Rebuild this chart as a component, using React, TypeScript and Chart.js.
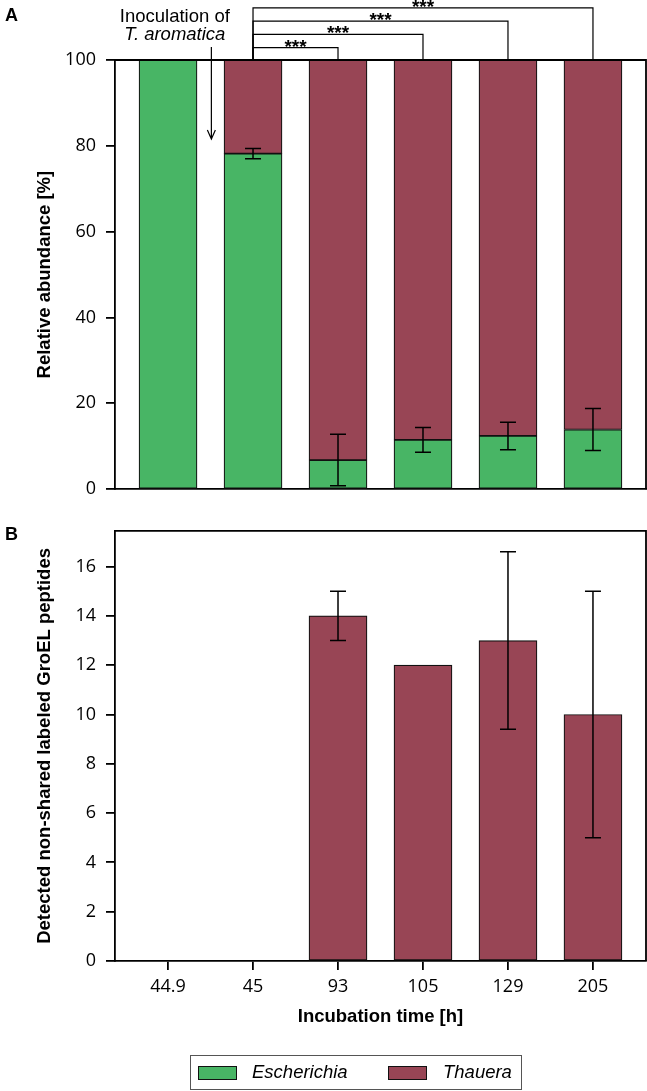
import { useEffect, useRef } from 'react'
import { Chart, registerables } from 'chart.js'

Chart.register(...registerables)

// incubation time points (h)
const timeLabels = ['44.9', '45', '93', '105', '129', '205']

// panel A: relative abundance [%]
const escherichiaAbundance = [100, 78.2, 6.8, 11.5, 12.4, 13.9]
const escherichiaAbundanceErr = [0, 1.2, 6, 2.9, 3.2, 4.9]
const thaueraAbundance = [0, 21.8, 93.2, 88.5, 87.6, 86.1]

// significance brackets (from time point index -> to index)
const significancePairs = [
  [1, 2],
  [1, 3],
  [1, 4],
  [1, 5],
]
const significanceLabels = ['***', '***', '***', '***']

// panel B: detected non-shared labeled GroEL peptides
const thaueraPeptides = [null, null, 14, 12, 13, 10]
const thaueraPeptidesErr = [0, 0, 1, 0, 3.6, 5]

const GREEN = '#48b565'
const RED = '#984555'
const EDGE = '#111'
const TICK_FONT = { family: 'Open Sans', size: 18 }
const TITLE_FONT = { family: 'Liberation Sans', size: 18.5, weight: 'bold' as const }

const frame = {
  id: 'frame',
  afterDraw(chart: any) {
    const { ctx, chartArea } = chart
    ctx.save()
    ctx.strokeStyle = '#000'
    ctx.lineWidth = 1.8
    ctx.beginPath()
    ctx.moveTo(chartArea.left, chartArea.top)
    ctx.lineTo(chartArea.right, chartArea.top)
    ctx.lineTo(chartArea.right, chartArea.bottom)
    ctx.stroke()
    ctx.restore()
  },
}

function errorBars(values: (number | null)[], errs: number[]) {
  return {
    id: 'errorBars',
    afterDatasetsDraw(chart: any) {
      const { ctx, scales } = chart
      ctx.save()
      ctx.strokeStyle = '#000'
      ctx.lineWidth = 1.5
      values.forEach((v, i) => {
        if (v == null || !errs[i]) return
        const x = scales.x.getPixelForValue(i)
        const y1 = scales.y.getPixelForValue(v + errs[i])
        const y2 = scales.y.getPixelForValue(v - errs[i])
        ctx.beginPath()
        ctx.moveTo(x, y1)
        ctx.lineTo(x, y2)
        ctx.moveTo(x - 8, y1)
        ctx.lineTo(x + 8, y1)
        ctx.moveTo(x - 8, y2)
        ctx.lineTo(x + 8, y2)
        ctx.stroke()
      })
      ctx.restore()
    },
  }
}

const annotations = {
  id: 'annotations',
  afterDraw(chart: any) {
    const { ctx, scales, chartArea } = chart
    ctx.save()
    ctx.strokeStyle = '#000'
    ctx.fillStyle = '#000'
    ctx.lineWidth = 1.2
    // significance brackets
    const top = scales.y.getPixelForValue(100)
    significancePairs.forEach(([a, b], k) => {
      const xa = scales.x.getPixelForValue(a)
      const xb = scales.x.getPixelForValue(b)
      const yl = chartArea.top - 12.3 - 13.3 * k
      ctx.beginPath()
      ctx.moveTo(xa, top)
      ctx.lineTo(xa, yl)
      ctx.lineTo(xb, yl)
      ctx.lineTo(xb, top)
      ctx.stroke()
      ctx.font = 'bold 19px "Liberation Sans"'
      ctx.textAlign = 'center'
      ctx.textBaseline = 'alphabetic'
      ctx.fillText(significanceLabels[k], (xa + xb) / 2, yl + 5)
    })
    // inoculation arrow
    const ax = scales.x.getPixelForValue(0.51)
    const y0 = chartArea.top - 13
    const y1 = scales.y.getPixelForValue(81.6)
    ctx.beginPath()
    ctx.moveTo(ax, y0)
    ctx.lineTo(ax, y1)
    ctx.moveTo(ax - 4, y1 - 9)
    ctx.lineTo(ax, y1)
    ctx.lineTo(ax + 4, y1 - 9)
    ctx.stroke()
    const tx = scales.x.getPixelForValue(0.08)
    ctx.textAlign = 'center'
    ctx.font = '18.5px "Liberation Sans"'
    ctx.fillText('Inoculation of', tx, 21.7)
    ctx.font = 'italic 18.5px "Liberation Sans"'
    ctx.fillText('T. aromatica', tx, 40)
    ctx.restore()
  },
}

const xRange = { min: -0.624, max: 5.624, offset: false }
const setTicks = (s: any) => {
  s.ticks = timeLabels.map((_, i) => ({ value: i }))
}

function AbundanceChart() {
  const ref = useRef<HTMLCanvasElement>(null)
  useEffect(() => {
    if (!ref.current) return
    const chart = new Chart(ref.current, {
      type: 'bar',
      data: {
        datasets: [
          {
            label: 'Escherichia',
            data: escherichiaAbundance.map((y, i) => ({ x: i, y })),
            backgroundColor: GREEN,
            borderColor: EDGE,
            borderWidth: 1.2,
            borderSkipped: false,
            barThickness: 58,
          },
          {
            label: 'Thauera',
            data: thaueraAbundance.map((y, i) => ({ x: i, y })),
            backgroundColor: RED,
            borderColor: EDGE,
            borderWidth: 1.2,
            borderSkipped: false,
            barThickness: 58,
          },
        ],
      },
      options: {
        animation: false,
        responsive: false,
        layout: { padding: { top: 60, right: 1, left: 0, bottom: 0 } },
        plugins: { legend: { display: false }, tooltip: { enabled: false } },
        scales: {
          x: {
            type: 'linear',
            stacked: true,
            ...xRange,
            afterBuildTicks: setTicks,
            ticks: { display: false },
            grid: { display: false, offset: false },
            border: { color: '#000', width: 1.8 },
            afterFit: (s: any) => {
              s.height = 15
            },
          },
          y: {
            stacked: true,
            min: 0,
            max: 100,
            ticks: { stepSize: 20, padding: 10, color: '#000', font: TICK_FONT },
            grid: { drawOnChartArea: false, tickLength: 9, color: '#000', lineWidth: 1.8 },
            border: { color: '#000', width: 1.8 },
            title: {
              display: true,
              text: 'Relative abundance [%]',
              color: '#000',
              font: TITLE_FONT,
              padding: { top: 34, bottom: 0 },
            },
            afterFit: (s: any) => {
              s.width = 115
            },
          },
        },
      } as any,
      plugins: [frame, errorBars(escherichiaAbundance, escherichiaAbundanceErr), annotations],
    })
    return () => chart.destroy()
  }, [])
  return <canvas ref={ref} width={647} height={510} style={{ position: 'absolute', left: 0, top: 0 }} />
}

function PeptideChart() {
  const ref = useRef<HTMLCanvasElement>(null)
  useEffect(() => {
    if (!ref.current) return
    const chart = new Chart(ref.current, {
      type: 'bar',
      data: {
        datasets: [
          {
            label: 'Thauera',
            data: thaueraPeptides.map((y, i) => ({ x: i, y })),
            backgroundColor: RED,
            borderColor: EDGE,
            borderWidth: 1.2,
            borderSkipped: false,
            barThickness: 58,
          },
        ],
      },
      options: {
        animation: false,
        responsive: false,
        layout: { padding: { top: 16, right: 1, left: 0, bottom: 0 } },
        plugins: { legend: { display: false }, tooltip: { enabled: false } },
        scales: {
          x: {
            type: 'linear',
            ...xRange,
            afterBuildTicks: setTicks,
            ticks: {
              autoSkip: false,
              maxRotation: 0,
              padding: 6,
              color: '#000',
              font: TICK_FONT,
              callback: (v: any) => timeLabels[v] ?? '',
            },
            grid: { drawOnChartArea: false, offset: false, tickLength: 9, color: '#000', lineWidth: 1.8 },
            border: { color: '#000', width: 1.8 },
            title: {
              display: true,
              text: 'Incubation time [h]',
              color: '#000',
              font: TITLE_FONT,
              padding: { top: 0, bottom: 28 },
            },
            afterFit: (s: any) => {
              s.height = 95
            },
          },
          y: {
            min: 0,
            max: 17.45,
            ticks: { stepSize: 2, includeBounds: false, padding: 10, color: '#000', font: TICK_FONT },
            grid: { drawOnChartArea: false, tickLength: 9, color: '#000', lineWidth: 1.8 },
            border: { color: '#000', width: 1.8 },
            title: {
              display: true,
              text: 'Detected non-shared labeled GroEL peptides',
              color: '#000',
              font: TITLE_FONT,
              padding: { top: 34, bottom: 0 },
            },
            afterFit: (s: any) => {
              s.width = 115
            },
          },
        },
      } as any,
      plugins: [frame, errorBars(thaueraPeptides, thaueraPeptidesErr)],
    })
    return () => chart.destroy()
  }, [])
  return <canvas ref={ref} width={647} height={546} style={{ position: 'absolute', left: 0, top: 510 }} />
}

const panelLabel = {
  position: 'absolute' as const,
  left: 5,
  fontFamily: 'Liberation Sans',
  fontWeight: 'bold',
  fontSize: 18,
  lineHeight: '18px',
}

const swatch = (color: string, left: number) => ({
  position: 'absolute' as const,
  left,
  top: 10,
  width: 37,
  height: 12,
  background: color,
  border: '1px solid ' + EDGE,
})

const legendText = (left: number) => ({
  position: 'absolute' as const,
  left,
  top: 5,
  fontFamily: 'Liberation Sans',
  fontStyle: 'italic',
  fontSize: 18.5,
  lineHeight: '22px',
})

export default function App() {
  useEffect(() => {
    document.body.style.margin = '0'
  }, [])
  return (
    <div style={{ position: 'relative', width: 647, height: 1091, background: '#fff' }}>
      <AbundanceChart />
      <PeptideChart />
      <div style={{ ...panelLabel, top: 6 }}>A</div>
      <div style={{ ...panelLabel, top: 525 }}>B</div>
      <div
        style={{
          position: 'absolute',
          left: 190,
          top: 1055,
          width: 330,
          height: 33,
          border: '1.5px solid #555',
        }}
      >
        <div style={swatch(GREEN, 7)} />
        <div style={legendText(61)}>Escherichia</div>
        <div style={swatch(RED, 197)} />
        <div style={legendText(252)}>Thauera</div>
      </div>
    </div>
  )
}
